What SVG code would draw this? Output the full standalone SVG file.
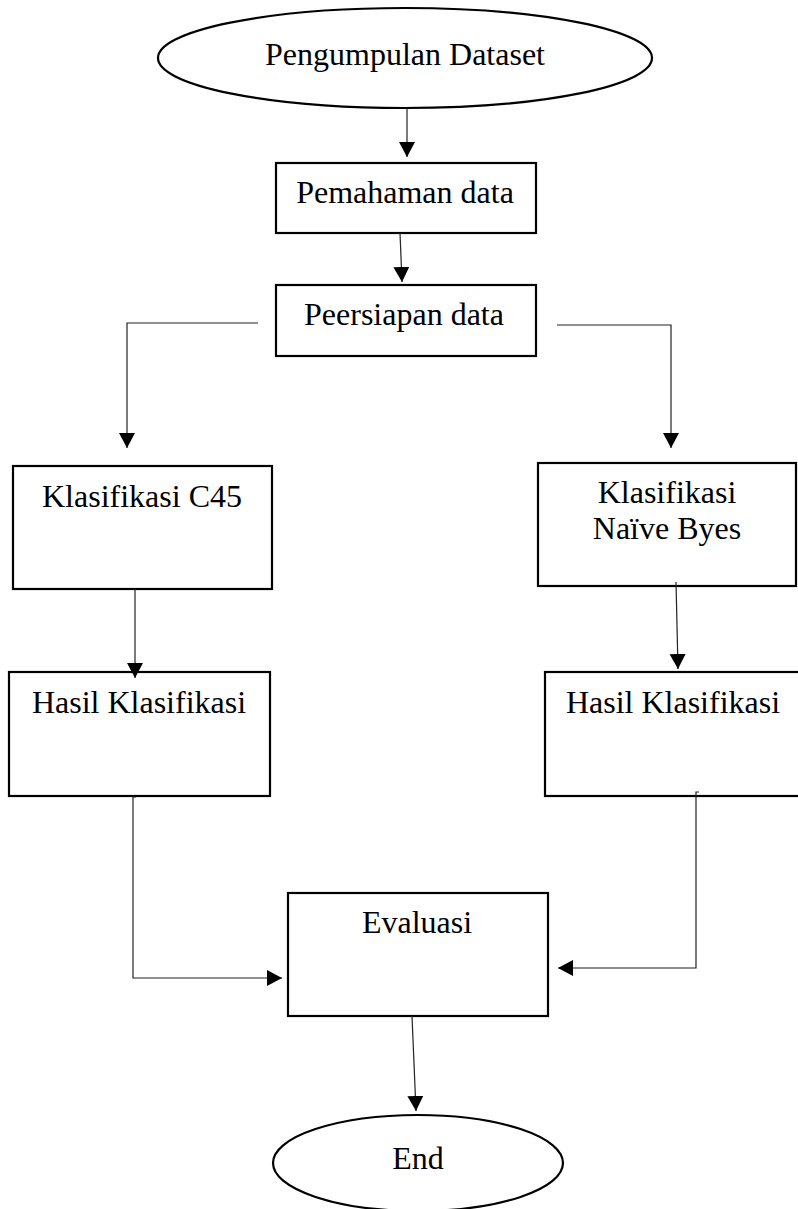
<svg xmlns="http://www.w3.org/2000/svg" width="798" height="1209" viewBox="0 0 798 1209">
<style>
.node{fill:#fff;stroke:#000;stroke-width:2.2}
.lbl{font-family:"Liberation Serif","Times New Roman",serif;font-size:32px;fill:#000;text-anchor:middle}
.con{fill:none;stroke:#222;stroke-width:1.2}
</style>
<defs>
<marker id="arr" markerUnits="userSpaceOnUse" markerWidth="17" markerHeight="17" refX="15" refY="8" orient="auto">
<path d="M0,0 L15,8 L0,16 z" fill="#000"/>
</marker>
</defs>
<rect width="798" height="1209" fill="#fff"/>
<g id="n-pengumpulan">
<ellipse class="node" cx="405" cy="58" rx="247" ry="50"/>
<text class="lbl" x="405" y="65">Pengumpulan Dataset</text>
</g>
<g id="n-pemahaman">
<rect class="node" x="276" y="163" width="260" height="70"/>
<text class="lbl" x="405" y="203">Pemahaman data</text>
</g>
<g id="n-persiapan">
<rect class="node" x="276" y="285" width="260" height="71"/>
<text class="lbl" x="404" y="325">Peersiapan data</text>
</g>
<g id="n-c45">
<rect class="node" x="13" y="466" width="259" height="123"/>
<text class="lbl" x="142" y="507">Klasifikasi C45</text>
</g>
<g id="n-nb">
<rect class="node" x="538" y="463" width="258" height="123"/>
<text class="lbl" x="667" y="503">Klasifikasi</text>
<text class="lbl" x="667" y="539">Naïve Byes</text>
</g>
<g id="n-hasil1">
<rect class="node" x="9" y="672" width="261" height="124"/>
<text class="lbl" x="139" y="713">Hasil Klasifikasi</text>
</g>
<g id="n-hasil2">
<rect class="node" x="545" y="672" width="260" height="124"/>
<text class="lbl" x="673" y="713">Hasil Klasifikasi</text>
</g>
<g id="n-evaluasi">
<rect class="node" x="288" y="893" width="260" height="123"/>
<text class="lbl" x="417" y="933">Evaluasi</text>
</g>
<g id="n-end">
<ellipse class="node" cx="418" cy="1163" rx="145" ry="48"/>
<text class="lbl" x="418" y="1169">End</text>
</g>
<g id="connectors">
<path class="con" d="M407,108 L407,157" marker-end="url(#arr)"/>
<path class="con" d="M400,233 L402,282" marker-end="url(#arr)"/>
<path class="con" d="M258,323 L127,323 L127,448" marker-end="url(#arr)"/>
<path class="con" d="M557,325 L671,325 L671,448" marker-end="url(#arr)"/>
<path class="con" d="M135,589 L135,678" marker-end="url(#arr)"/>
<path class="con" d="M676,582 L678,669" marker-end="url(#arr)"/>
<path class="con" d="M136,797 L133,797 L133,978 L282,978" marker-end="url(#arr)"/>
<path class="con" d="M699,792 L696,792 L696,968 L558,968" marker-end="url(#arr)"/>
<path class="con" d="M412,1016 L416,1111" marker-end="url(#arr)"/>
</g>
</svg>
